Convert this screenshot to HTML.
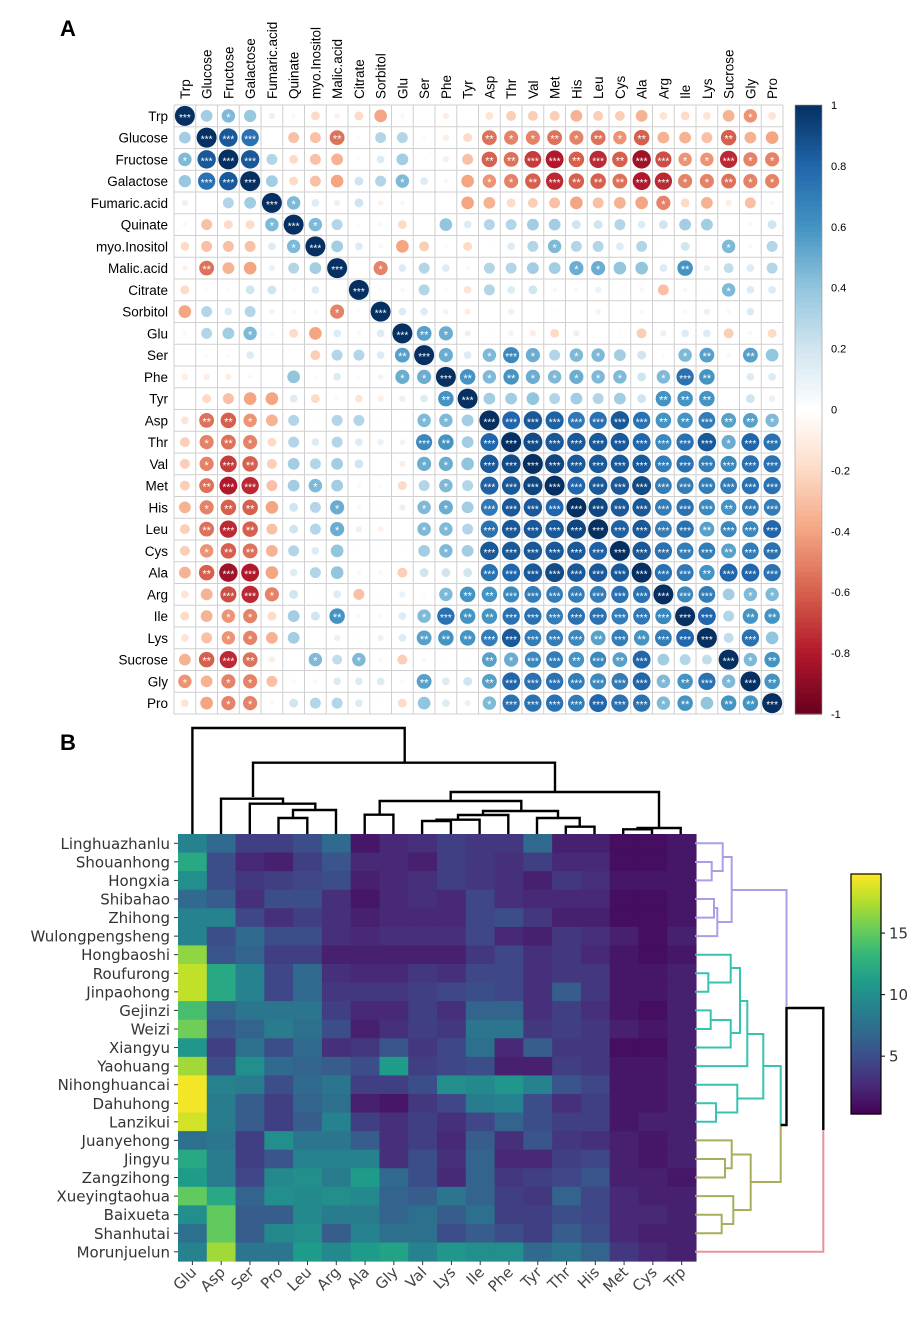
<!DOCTYPE html>
<html><head><meta charset="utf-8"><style>
body{margin:0;background:#fff;}
svg{display:block;font-family:"Liberation Sans",sans-serif;}
</style></head><body>
<svg id="fig" width="917" height="1319" viewBox="0 0 917 1319" xmlns="http://www.w3.org/2000/svg">
<text x="60" y="36" font-size="22" font-weight="bold">A</text>
<text x="60" y="750" font-size="22" font-weight="bold">B</text>
<g id="corr"></g>
<g id="heat"></g>
</svg>
<script>
const NS='http://www.w3.org/2000/svg';
function mk(p,t,a){const e=document.createElementNS(NS,t);for(const k in a)e.setAttribute(k,a[k]);p.appendChild(e);return e;}

// ===== Panel A data =====
const vars=["Trp","Glucose","Fructose","Galactose","Fumaric.acid","Quinate","myo.Inositol","Malic.acid","Citrate","Sorbitol","Glu","Ser","Phe","Tyr","Asp","Thr","Val","Met","His","Leu","Cys","Ala","Arg","Ile","Lys","Sucrose","Gly","Pro"];
const topBlock=[
[1,.35,.45,.38,.1,-.05,-.2,-.08,-.2,-.4,.05,0,-.1,0],
[.35,1,.85,.75,0,-.3,-.3,-.55,-.03,.3,.3,.03,-.1,-.2],
[.4,.85,1,.85,.3,-.2,-.3,-.35,-.03,.15,.35,.03,-.1,-.3],
[.35,.75,.85,1,.35,-.2,-.3,-.4,.2,.3,.45,.15,-.05,-.4],
[.1,0,.25,.35,1,.45,.15,.1,.2,-.08,.05,0,0,-.4],
[-.05,-.35,-.2,-.2,.45,1,.45,.3,-.03,-.05,-.2,0,.4,.15],
[-.2,-.35,-.4,-.35,.15,.45,1,.35,.15,-.05,-.4,-.25,.03,-.2],
[-.1,-.55,-.4,-.35,.15,.3,.35,1,0,-.5,.15,.3,.15,.05],
[-.2,-.03,-.05,.2,.3,-.03,.15,0,1,.03,.05,.3,.03,-.15],
[-.4,.3,.15,.3,-.08,-.05,-.1,-.5,.03,1,.15,.15,.08,-.1],
[.05,.3,.35,.45,.05,-.15,-.4,.15,0,.15,1,.55,.5,.1],
[0,0,.02,.15,0,-.02,-.2,.25,.3,.15,.55,1,.5,.15],
[-.1,-.1,-.1,-.05,0,.4,.03,.15,.03,.1,.5,.45,1,.6],
[0,-.2,-.3,-.4,-.4,.15,-.25,-.05,-.25,-.1,.15,.15,.6,1]];
const crossBlock=[
[-.15,-.55,-.6,-.45,-.35,.3,.02,.3,.3,.02,.02,.45,.45,.35],
[-.25,-.5,-.55,-.5,-.2,.3,.15,.3,.15,.1,.08,.65,.6,.35],
[-.25,-.5,-.7,-.6,-.25,.35,.3,.35,.2,.02,-.1,.5,.5,.4],
[-.25,-.55,-.8,-.75,-.3,.35,.45,.35,.05,.03,-.2,.3,.45,.3],
[-.35,-.5,-.6,-.6,-.4,.2,.3,.5,.05,.02,.1,.45,.5,.35],
[-.25,-.55,-.75,-.6,-.3,.2,.3,.5,.1,-.08,0,.45,.45,.3],
[-.25,-.45,-.6,-.55,-.35,.3,.15,.4,.02,.02,.02,.35,.45,.35],
[-.35,-.6,-.85,-.8,-.4,.15,.3,.4,.05,-.05,-.25,.2,.2,.2],
[-.15,-.35,-.65,-.75,-.5,.2,.02,.15,-.3,-.02,.1,.03,.45,.6],
[-.2,-.35,-.45,-.5,-.2,.35,.2,.6,-.05,-.05,.15,.45,.75,.6],
[-.15,-.3,-.45,-.5,-.35,.35,0,.1,.02,.1,.15,.55,.6,.6],
[-.35,-.6,-.75,-.55,-.1,0,.45,.25,.45,-.05,-.25,.05,.02,-.02],
[-.45,-.35,-.5,-.5,-.3,.05,.05,.15,.15,.15,-.05,.55,.15,.2],
[-.15,-.4,-.5,-.5,-.05,.2,.3,.3,.15,-.02,-.2,.4,.15,.1]];
const aminoBlock=[
[1,.8,.85,.82,.72,.75,.85,.75,.6,.6,.7,.55,.55,.45],
[.8,1,.9,.85,.85,.85,.85,.8,.65,.75,.85,.5,.8,.75],
[.85,.9,1,.92,.85,.85,.85,.85,.7,.75,.7,.65,.75,.75],
[.82,.85,.92,1,.8,.85,.85,.9,.7,.7,.7,.7,.75,.75],
[.72,.85,.85,.8,1,.92,.85,.85,.7,.75,.65,.6,.7,.7],
[.75,.85,.85,.85,.92,1,.82,.85,.7,.75,.55,.65,.65,.8],
[.85,.85,.85,.85,.85,.82,1,.85,.75,.7,.7,.55,.7,.75],
[.75,.8,.85,.9,.85,.85,.85,1,.75,.72,.6,.8,.8,.75],
[.6,.65,.7,.7,.7,.7,.75,.75,1,.65,.7,.35,.45,.45],
[.6,.75,.75,.7,.75,.75,.7,.72,.65,1,.8,.3,.6,.6],
[.7,.85,.7,.7,.65,.55,.7,.6,.7,.8,1,.25,.75,.4],
[.55,.5,.65,.7,.6,.65,.55,.8,.35,.3,.25,1,.45,.6],
[.55,.8,.75,.75,.7,.65,.7,.8,.45,.6,.75,.45,1,.6],
[.45,.75,.75,.75,.7,.8,.75,.75,.45,.6,.4,.6,.6,1]];
const corrTicks=[1,0.8,0.6,0.4,0.2,0,-0.2,-0.4,-0.6,-0.8,-1];

function corrVal(i,j){
  if(i<14&&j<14){const a=Math.min(i,j),b=Math.max(i,j);return topBlock[a][b];}
  if(i>=14&&j>=14){const a=Math.min(i,j),b=Math.max(i,j);return aminoBlock[a-14][b-14];}
  if(i>=14)return crossBlock[i-14][j];
  return crossBlock[j-14][i];
}
const rdbu=["#67001F","#B2182B","#D6604D","#F4A582","#FDDBC7","#FFFFFF","#D1E5F0","#92C5DE","#4393C3","#2166AC","#053061"];
function hex(h){return [parseInt(h.substr(1,2),16),parseInt(h.substr(3,2),16),parseInt(h.substr(5,2),16)];}
function ramp(stops,t){t=Math.max(0,Math.min(1,t));const n=stops.length-1;const k=Math.min(n-1,Math.floor(t*n));const f=t*n-k;const a=hex(stops[k]),b=hex(stops[k+1]);return 'rgb('+a.map((v,i)=>Math.round(v+(b[i]-v)*f)).join(',')+')';}
function corrColor(r){return ramp(rdbu,(r+1)/2);}

const corr=document.getElementById('corr');
const GX=174,GY=105,CS=21.75,N=vars.length;
const cx=j=>GX+CS*(j+0.5), cy=i=>GY+CS*(i+0.5);
// grid
for(let k=0;k<=N;k++){
  const gl=mk(corr,'line',{x1:GX+CS*k,y1:GY,x2:GX+CS*k,y2:GY+CS*N,stroke:'#cfcfcf','stroke-width':1});
  
  
  const gh=mk(corr,'line',{x1:GX,y1:GY+CS*k,x2:GX+CS*N,y2:GY+CS*k,stroke:'#cfcfcf','stroke-width':1});
  
  
}
for(let i=0;i<N;i++){
  const rl=mk(corr,'text',{x:GX-6,y:cy(i)+5,'text-anchor':'end','font-size':13.5});
  rl.textContent=vars[i];
  
  
  const cl=mk(corr,'text',{x:0,y:0,'font-size':13.5,transform:`translate(${cx(i)+5},${GY-6}) rotate(-90)`});
  cl.textContent=vars[i];
  
  
  for(let j=0;j<N;j++){
    const r=corrVal(i,j);const rad=10*Math.sqrt(Math.abs(r));
    if(rad<0.5)continue;
    const c=mk(corr,'circle',{cx:cx(j),cy:cy(i),r:rad,fill:corrColor(r)});
    
    
    const a=Math.abs(r);const st=a>=0.65?'***':a>=0.55?'**':a>=0.45?'*':'';
    if(st){const t=mk(corr,'text',{x:cx(j),y:cy(i)+5,'text-anchor':'middle','font-size':st.length==3?10:11,fill:'#fff'});t.textContent=st;
      
      }
  }
}
// colorbar A
const CBX=795,CBW=27,CBT=105,CBB=714;
for(let k=0;k<120;k++){
  const v=1-2*(k+0.5)/120;const h=(CBB-CBT)/120;
  const rr=mk(corr,'rect',{x:CBX,y:CBT+k*h,width:CBW,height:h+0.6,fill:corrColor(v)});
  
  
}
const cbf=mk(corr,'rect',{x:CBX,y:CBT,width:CBW,height:CBB-CBT,fill:'none',stroke:'#999','stroke-width':0.6});


corrTicks.forEach(v=>{
  const y=CBT+(1-v)/2*(CBB-CBT);
  const t=mk(corr,'text',{x:CBX+CBW+9,y:y+4,'font-size':11});t.textContent=String(v);
  
  
});

// ===== Panel B data =====
const heatCols=["Glu","Asp","Ser","Pro","Leu","Arg","Ala","Gly","Val","Lys","Ile","Phe","Tyr","Thr","His","Met","Cys","Trp"];
const heatRows=["Linghuazhanlu","Shouanhong","Hongxia","Shibahao","Zhihong","Wulongpengsheng","Hongbaoshi","Roufurong","Jinpaohong","Gejinzi","Weizi","Xiangyu","Yaohuang","Nihonghuancai","Dahuhong","Lanzikui","Juanyehong","Jingyu","Zangzihong","Xueyingtaohua","Baixueta","Shanhutai","Morunjuelun"];
const heatVals=[
[9,7,4,4,5,7,1.5,2.5,3,4,3.5,3.5,7,2,2,1,1,1.5],
[12,5,2.5,2,4,5.5,2.5,2.5,2,4,3.5,3,4,2.5,2.5,1,1,1.5],
[10,5,3.5,4,4.5,5,2,2.5,3,4,3.5,3,2,3.5,3,1.5,1.5,1.5],
[7,6,3,5,5,3,1.5,2.5,3,2.5,4.5,3,2.5,2.5,2.5,1,1,1.5],
[9,9,4.5,3,4,3,2,2.5,2.5,2.5,4.5,5,3.5,2,2,1,1,1.5],
[9,5,7,5,5,3,2.5,3,3,3,4.5,2.5,2,3.5,3,2,1,2],
[16.5,5.5,6.5,4,4,2,2,2,2,2,3.5,4.5,3,3.5,2.5,1.5,1,1.5],
[18,12,9,4.5,7,3,2.5,2.5,3.5,3,4.5,4.5,3,3.5,3.5,1.5,1.5,2],
[18,12,9,4.5,7,3.5,3.5,3.5,4,4.5,5,4.5,3,6,3.5,1.5,1.5,2],
[14,6.5,8,8,8,4,2.5,2.5,4,3,6.5,6.5,3,4,3,1.5,1,2],
[15.5,5.5,6.5,8.5,7.5,5,2,3,4,3.5,8,8,3.5,4,3.5,2,1.5,2],
[10.5,4,7.5,5,7,3,3.5,5.5,3.5,4.5,7.5,2.5,6,3.5,3.5,1,1,2],
[17,5,10,7,6.5,6,5,11,4,4.5,5,2,2,4,3.5,1.5,1.5,2],
[19.5,9,8.5,5,7,8,4,4,5,10,9.5,10.5,9,5.5,4.5,1.5,1.5,2],
[19.5,8.5,6,4,6.5,7.5,2,1.5,3.5,4.5,8.5,9,5,3,4,1.5,1.5,2],
[18.5,8.5,6,4,6,9,4,3,4,3,4.5,6.5,5,4,4,1.5,2,2],
[7.5,8,4,10,8,8,6,3,4,2.5,6,3,5.5,3.5,3,2,1.5,2],
[12,8.5,4,5.5,9,9,9,3,5,3,6.5,2.5,2.5,4,4.5,2,1.5,2],
[11,8.5,4.5,9.5,10,8.5,11,7,5,2.5,6.5,3.5,4,4.5,5.5,2,2,1.5],
[15,12,6.5,10,9.5,10,9.5,6.5,6,8,6.5,4,3.5,6.5,4.5,2.5,2,2],
[10,15,6,6,9.5,8.5,8.5,6.5,7.5,6,7.5,4,4,5,4.5,2.5,2.5,2],
[7.5,15,6,9.5,10,6,9,7.5,7.5,5,6,5,4,6,5,2.5,2,2],
[9,17,8,8,11,9.5,11,11.5,9,10.5,10,10,7,8,6.5,3.5,2.5,2]];
const heatTicks=[5,10,15];
const vir=["#440154","#482878","#3e4989","#31688e","#26828e","#1f9e89","#35b779","#6ece58","#b5de2b","#fde725"];
const VMIN=0.3,VMAX=19.8;
function virColor(v){return ramp(vir,(v-VMIN)/(VMAX-VMIN));}

const heat=document.getElementById('heat');
const HX=178,HY=834,HW=28.78,HH=18.57;
const hx=j=>HX+HW*(j+0.5), hy=i=>HY+HH*(i+0.5);
heatRows.forEach((rn,i)=>{
  heatCols.forEach((cn,j)=>{
    const c=mk(heat,'rect',{x:HX+HW*j,y:HY+HH*i,width:HW+0.5,height:HH+0.5,fill:virColor(heatVals[i][j])});
    
    
  });
  const t=mk(heat,'text',{x:HX-8,y:hy(i)+5.5,'text-anchor':'end','font-size':15,fill:'#333','font-family':'DejaVu Sans, sans-serif'});
  t.textContent=rn;
  
  
  const tk=mk(heat,'line',{x1:HX-4,y1:hy(i),x2:HX,y2:hy(i),stroke:'#333'});
  
  
});
const HB=HY+HH*heatRows.length;
heatCols.forEach((cn,j)=>{
  const t=mk(heat,'text',{x:0,y:0,'text-anchor':'end','font-size':15,fill:'#444','font-family':'DejaVu Sans, sans-serif',transform:`translate(${hx(j)+5},${HB+12}) rotate(-45)`});
  t.textContent=cn;
  
  
  const tk=mk(heat,'line',{x1:hx(j),y1:HB,x2:hx(j),y2:HB+4,stroke:'#333'});
  
  
});
// dendrograms (structure)
function seg(pts,col,w,name){const p=mk(heat,'polyline',{points:pts.map(q=>q.join(',')).join(' '),fill:'none',stroke:col,'stroke-width':w});
  
  }
const B=HY;
const colD=[
[[192.4,B],[192.4,728],[404.7,728],[404.7,762.7]],
[[253,797],[253,762.7],[555,762.7],[555,792]],
[[221,B],[221,798.7],[283,798.7],[283,803.7]],
[[249.8,B],[249.8,803.7],[315.3,803.7],[315.3,810]],
[[293,818],[293,810],[336,810],[336,B]],
[[278.5,B],[278.5,818],[307.3,818],[307.3,B]],
[[450.7,801],[450.7,792],[659,792],[659,828]],
[[379.7,814.7],[379.7,801],[521.3,801],[521.3,811]],
[[364.7,B],[364.7,814.7],[393.4,814.7],[393.4,B]],
[[483,815],[483,811],[558,811],[558,818]],
[[458,819.7],[458,815],[508.3,815],[508.3,B]],
[[436.5,821],[436.5,819.7],[479.6,819.7],[479.6,B]],
[[422.1,B],[422.1,821],[450.9,821],[450.9,B]],
[[537,B],[537,818],[579.7,818],[579.7,826.7]],
[[565.8,B],[565.8,826.7],[594.5,826.7],[594.5,B]],
[[637.6,829.3],[637.6,828],[680.7,828],[680.7,B]],
[[623.2,B],[623.2,829.3],[652,829.3],[652,B]]];
colD.forEach(p=>seg(p,'#000',2.4,'column-dendrogram-branch'));
const L=695,PU='#ab9ee6',TE='#38c2b0',OL='#a9ad5e',PK='#e8939f';
const rowD=[
[PU,[[L,862],[711.7,862],[711.7,880.4],[L,880.4]]],
[PU,[[L,843.3],[722.7,843.3],[722.7,871],[711.7,871]]],
[PU,[[L,899],[714,899],[714,917.6],[L,917.6]]],
[PU,[[714,908],[717.3,908],[717.3,936.1],[L,936.1]]],
[PU,[[722.7,857],[731.7,857],[731.7,922],[717.3,922]]],
[PU,[[731.7,890],[786.5,890],[786.5,1006]]],
[TE,[[L,973.3],[708.3,973.3],[708.3,991.8],[L,991.8]]],
[TE,[[L,954.7],[730.7,954.7],[730.7,982.5],[708.3,982.5]]],
[TE,[[L,1010.4],[710.7,1010.4],[710.7,1029],[L,1029]]],
[TE,[[710.7,1020],[730.7,1020],[730.7,1047.5],[L,1047.5]]],
[TE,[[730.7,968],[740,968],[740,1033],[730.7,1033]]],
[TE,[[740,1001],[747.3,1001],[747.3,1066.1],[L,1066.1]]],
[TE,[[L,1103.3],[716,1103.3],[716,1121.8],[L,1121.8]]],
[TE,[[L,1084.7],[737.3,1084.7],[737.3,1112.5],[716,1112.5]]],
[TE,[[747.3,1034],[763.3,1034],[763.3,1098.5],[737.3,1098.5]]],
[TE,[[763.3,1066],[780.7,1066],[780.7,1125]]],
[OL,[[L,1159],[725,1159],[725,1177.5],[L,1177.5]]],
[OL,[[L,1140.4],[731.7,1140.4],[731.7,1168.3],[725,1168.3]]],
[OL,[[L,1214.7],[721.7,1214.7],[721.7,1233.2],[L,1233.2]]],
[OL,[[L,1196.1],[733.3,1196.1],[733.3,1224],[721.7,1224]]],
[OL,[[731.7,1154.5],[750.7,1154.5],[750.7,1210],[733.3,1210]]],
[OL,[[750.7,1182],[780.7,1182],[780.7,1125]]],
['#000',[[780.7,1125],[786.5,1125],[786.5,1008],[823.3,1008],[823.3,1130]]],
[PK,[[823.3,1130],[823.3,1251.8],[L,1251.8]]]];
rowD.forEach(d=>seg(d[1],d[0],d[0]=='#000'?2.4:2,'row-dendrogram-branch'));
// colorbar B
const BX=851,BW=30,BT=874,BBt=1114;
for(let k=0;k<100;k++){
  const v=VMAX-(VMAX-VMIN)*(k+0.5)/100;const h=(BBt-BT)/100;
  const rr=mk(heat,'rect',{x:BX,y:BT+k*h,width:BW,height:h+0.6,fill:virColor(v)});
  
  
}
const bf=mk(heat,'rect',{x:BX,y:BT,width:BW,height:BBt-BT,fill:'none',stroke:'#000','stroke-width':1.2});


heatTicks.forEach(v=>{
  const y=BBt-(v-VMIN)/(VMAX-VMIN)*(BBt-BT);
  const tk=mk(heat,'line',{x1:BX+BW,y1:y,x2:BX+BW+4,y2:y,stroke:'#000'});
  
  
  const t=mk(heat,'text',{x:BX+BW+8,y:y+5.5,'font-size':15,fill:'#333','font-family':'DejaVu Sans, sans-serif'});t.textContent=String(v);
  
  
});
</script>
</body></html>
